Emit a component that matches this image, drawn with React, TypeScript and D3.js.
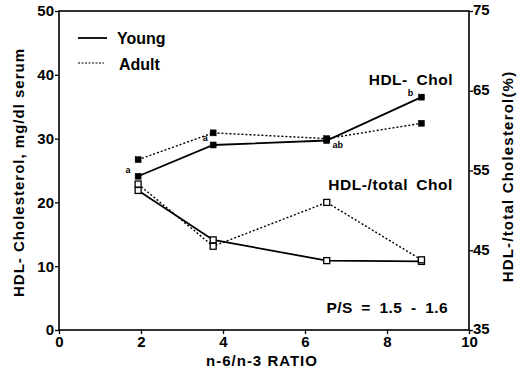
import React, { useEffect, useRef } from 'react';
import * as d3 from 'd3';

// n-6/n-3 ratio of the diets
const ratios = [1.93, 3.76, 6.53, 8.84];

// HDL cholesterol, mg/dl serum (left axis)
const youngHdl = [24.1, 29.0, 29.7, 36.5];
const adultHdl = [26.7, 30.9, 30.0, 32.4];

// HDL / total cholesterol, % (right axis)
const youngRatio = [52.5, 46.3, 43.7, 43.6];
const adultRatio = [53.3, 45.5, 51.0, 43.8];

// significance letters on the young HDL series
const youngLetters = ['a', 'a', 'ab', 'b'];

const leftTicks = [0, 10, 20, 30, 40, 50];
const rightTicks = [35, 45, 55, 65, 75];
const xTicks = [0, 2, 4, 6, 8, 10];

const W = 525;
const H = 373;
const FONT = '"Liberation Sans", Arial, sans-serif';

const App: React.FC = () => {
  const svgRef = useRef<SVGSVGElement>(null);

  useEffect(() => {
    if (!svgRef.current) return;
    const svg = d3.select(svgRef.current);
    svg.selectAll('*').remove();

    const left = 59;
    const right = 469;
    const top = 11;
    const bottom = 330;

    const x = d3.scaleLinear().domain([0, 10]).range([left, right]);
    const yL = d3.scaleLinear().domain([0, 50]).range([bottom, top]);
    const yR = d3.scaleLinear().domain([35, 75]).range([bottom, top]);

    const g = svg.append('g').attr('font-family', FONT).attr('font-weight', 'bold');

    // frame
    g.append('rect')
      .attr('x', left)
      .attr('y', top)
      .attr('width', right - left)
      .attr('height', bottom - top)
      .attr('fill', 'none')
      .attr('stroke', '#000')
      .attr('stroke-width', 1.6);

    const xAxis = g
      .append('g')
      .attr('transform', `translate(0,${bottom})`)
      .call(d3.axisBottom(x).tickValues(xTicks).tickSize(4).tickFormat(d3.format('d')));
    const yAxisL = g
      .append('g')
      .attr('transform', `translate(${left},0)`)
      .call(d3.axisLeft(yL).tickValues(leftTicks).tickSize(4));
    const yAxisR = g
      .append('g')
      .attr('transform', `translate(${right},0)`)
      .call(d3.axisRight(yR).tickValues(rightTicks).tickSize(4));

    [xAxis, yAxisL, yAxisR].forEach((a) => {
      a.select('.domain').remove();
      a.selectAll('line').attr('stroke', '#000').attr('stroke-width', 1.3);
      a.selectAll('text')
        .attr('font-family', FONT)
        .attr('font-weight', 'bold')
        .attr('font-size', 15)
        .attr('fill', '#000');
    });
    xAxis.selectAll('text').attr('y', 6).attr('dy', '0.72em');
    yAxisL.selectAll('text').attr('x', -5);
    yAxisR.selectAll('text').attr('x', 4).attr('dy', '0.25em');

    // axis titles
    g.append('text')
      .attr('x', 262)
      .attr('y', 366)
      .attr('text-anchor', 'middle')
      .attr('font-size', 15)
      .attr('letter-spacing', 1)
      .text('n-6/n-3 RATIO');
    g.append('text')
      .attr('transform', `translate(24,${(top + bottom) / 2 + 2}) rotate(-90)`)
      .attr('text-anchor', 'middle')
      .attr('font-size', 15)
      .attr('letter-spacing', 1)
      .text('HDL- Cholesterol, mg/dl serum');
    g.append('text')
      .attr('transform', `translate(513,${(top + bottom) / 2 + 6}) rotate(-90)`)
      .attr('text-anchor', 'middle')
      .attr('font-size', 15)
      .attr('letter-spacing', 1.2)
      .text('HDL-/total Cholesterol(%)');

    const series = [
      { vals: youngHdl, y: yL, dash: null, filled: true },
      { vals: adultHdl, y: yL, dash: '2,2', filled: true },
      { vals: youngRatio, y: yR, dash: null, filled: false },
      { vals: adultRatio, y: yR, dash: '2,2', filled: false },
    ];

    series.forEach((s) => {
      const pts = s.vals.map((v, i) => [x(ratios[i]), s.y(v)] as [number, number]);
      g.append('path')
        .attr('d', d3.line()(pts))
        .attr('fill', 'none')
        .attr('stroke', '#000')
        .attr('stroke-width', s.dash ? 1.4 : 1.8)
        .attr('stroke-dasharray', s.dash);
      g.selectAll(null)
        .data(pts)
        .enter()
        .append('rect')
        .attr('x', (d) => d[0] - 3)
        .attr('y', (d) => d[1] - 3)
        .attr('width', 6)
        .attr('height', 6)
        .attr('fill', s.filled ? '#000' : '#fff')
        .attr('stroke', '#000')
        .attr('stroke-width', s.filled ? 0.5 : 1.3);
    });

    // significance letters
    const letterOffsets = [
      [-10, -3],
      [-8, -4],
      [11, 7],
      [-11, -1],
    ];
    youngLetters.forEach((l, i) => {
      g.append('text')
        .attr('x', x(ratios[i]) + letterOffsets[i][0])
        .attr('y', yL(youngHdl[i]) + letterOffsets[i][1])
        .attr('text-anchor', 'middle')
        .attr('font-size', 9)
        .text(l);
    });

    // series labels
    g.append('text')
      .attr('x', 453)
      .attr('y', 85)
      .attr('text-anchor', 'end')
      .attr('font-size', 15.5)
      .attr('letter-spacing', 0.5)
      .attr('word-spacing', 4)
      .text('HDL- Chol');
    g.append('text')
      .attr('x', 453)
      .attr('y', 190)
      .attr('text-anchor', 'end')
      .attr('font-size', 15.5)
      .attr('letter-spacing', 0.6)
      .attr('word-spacing', 3)
      .text('HDL-/total Chol');
    g.append('text')
      .attr('x', 448)
      .attr('y', 313)
      .attr('text-anchor', 'end')
      .attr('font-size', 15.5)
      .attr('letter-spacing', 0.4)
      .attr('word-spacing', 4)
      .text('P/S = 1.5 - 1.6');

    // legend
    const legend = g.append('g');
    legend
      .append('line')
      .attr('x1', 78)
      .attr('x2', 107)
      .attr('y1', 38)
      .attr('y2', 38)
      .attr('stroke', '#000')
      .attr('stroke-width', 1.8);
    legend.append('text').attr('x', 117).attr('y', 44).attr('font-size', 16).text('Young');
    legend
      .append('line')
      .attr('x1', 78)
      .attr('x2', 104)
      .attr('y1', 63)
      .attr('y2', 63)
      .attr('stroke', '#000')
      .attr('stroke-width', 1.2)
      .attr('stroke-dasharray', '2,1.5');
    legend.append('text').attr('x', 119).attr('y', 70).attr('font-size', 16).text('Adult');
  }, []);

  return (
    <svg
      ref={svgRef}
      width={W}
      height={H}
      style={{ position: 'absolute', left: 0, top: 0, background: '#fff' }}
    />
  );
};

export default App;
